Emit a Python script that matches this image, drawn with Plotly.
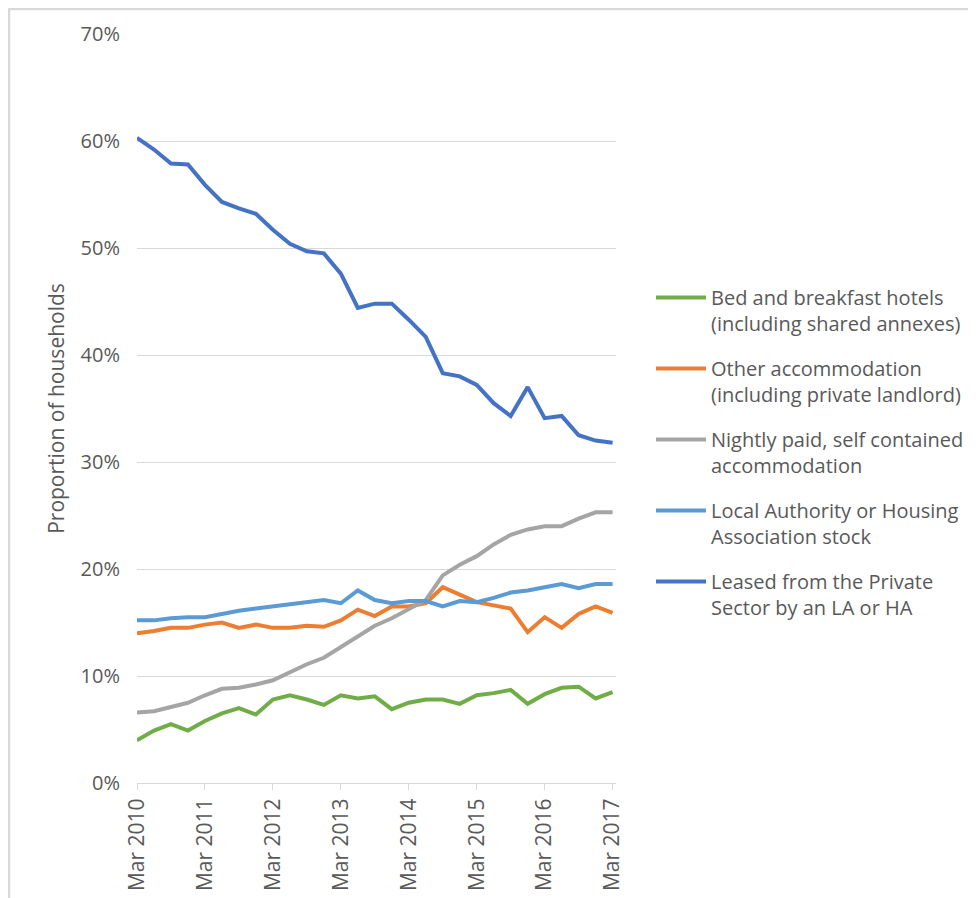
import plotly.graph_objects as go

years = list(range(2010, 2018))
months = ["Mar", "Jun", "Sep", "Dec"]
quarters = []
for y in years:
    for m in months:
        if y == 2017 and m != "Mar":
            continue
        quarters.append(f"{m} {y}")

tick_labels = [f"Mar {y}" for y in years]

bed_breakfast = [4.0, 4.9, 5.5, 4.9, 5.8, 6.5, 7.0, 6.4, 7.8, 8.2, 7.8, 7.3, 8.2, 7.9, 8.1,
                 6.9, 7.5, 7.8, 7.8, 7.4, 8.2, 8.4, 8.7, 7.4, 8.3, 8.9, 9.0, 7.9, 8.5]
other_accommodation = [14.0, 14.2, 14.5, 14.5, 14.8, 15.0, 14.5, 14.8, 14.5, 14.5, 14.7, 14.6, 15.2, 16.2, 15.6,
                       16.5, 16.5, 16.8, 18.3, 17.6, 16.9, 16.6, 16.3, 14.1, 15.5, 14.5, 15.8, 16.5, 15.9]
nightly_paid = [6.6, 6.7, 7.1, 7.5, 8.2, 8.8, 8.9, 9.2, 9.6, 10.4, 11.1, 11.7, 12.7, 13.7, 14.7,
                15.4, 16.2, 17.1, 19.4, 20.4, 21.2, 22.3, 23.2, 23.7, 24.0, 24.0, 24.7, 25.3, 25.3]
la_ha_stock = [15.2, 15.2, 15.4, 15.5, 15.5, 15.8, 16.1, 16.3, 16.5, 16.7, 16.9, 17.1, 16.8, 18.0, 17.1,
               16.8, 17.0, 17.0, 16.5, 17.0, 16.9, 17.3, 17.8, 18.0, 18.3, 18.6, 18.2, 18.6, 18.6]
leased_private = [60.3, 59.2, 57.9, 57.8, 55.9, 54.3, 53.7, 53.2, 51.7, 50.4, 49.7, 49.5, 47.6, 44.4, 44.8,
                  44.8, 43.3, 41.7, 38.3, 38.0, 37.2, 35.5, 34.3, 37.0, 34.1, 34.3, 32.5, 32.0, 31.8]

series = [
    ("Bed and breakfast hotels<br>(including shared annexes)", bed_breakfast, "#70AD47"),
    ("Other accommodation<br>(including private landlord)", other_accommodation, "#ED7D31"),
    ("Nightly paid, self contained<br>accommodation", nightly_paid, "#A5A5A5"),
    ("Local Authority or Housing<br>Association stock", la_ha_stock, "#5B9BD5"),
    ("Leased from the Private<br>Sector by an LA or HA", leased_private, "#4472C4"),
]

FONT = "Open Sans"
TXT = "#595959"

fig = go.Figure()
for i, (name, vals, color) in enumerate(series):
    fig.add_trace(go.Scatter(
        x=quarters, y=[v / 100 for v in vals], name=name, mode="lines",
        line=dict(color=color, width=4), legendgroup=f"g{i}",
    ))

W, H = 976, 898
L, R, T, B = 129, 368, 26, 123
pw, ph = W - L - R, H - T - B

def px_x(p):
    return (p - L) / pw

def px_y(p):
    return (H - B - p) / ph

fig.update_layout(
    width=W, height=H,
    margin=dict(l=L, r=R, t=T, b=B),
    paper_bgcolor="white", plot_bgcolor="white",
    font=dict(family=FONT, color=TXT, size=18),
    legend=dict(
        x=px_x(643), y=px_y(270), xanchor="left", yanchor="top",
        font=dict(family=FONT, size=20, color=TXT),
        tracegroupgap=16, valign="top", itemwidth=50,
        bgcolor="rgba(0,0,0,0)",
    ),
    showlegend=True,
    shapes=[dict(type="rect", xref="paper", yref="paper",
                 x0=px_x(1), x1=px_x(990), y0=px_y(910), y1=px_y(1),
                 line=dict(color="#d9d9d9", width=2.5), layer="below")],
)

fig.update_xaxes(
    type="category", range=[0, 28.2],
    tickmode="array", tickvals=tick_labels, ticktext=tick_labels,
    tickangle=-90, tickfont=dict(family=FONT, size=21, color=TXT),
    showgrid=False, showline=True, linecolor="#d9d9d9", linewidth=1,
    ticks="outside", ticklen=6, tickcolor="#d9d9d9",
    zeroline=False, fixedrange=True,
)
fig.update_yaxes(
    range=[0, 0.7], tickvals=[0, 0.1, 0.2, 0.3, 0.4, 0.5, 0.6, 0.7],
    tickformat=".0%", tickfont=dict(family=FONT, size=20, color=TXT),
    showgrid=True, gridcolor="#d9d9d9", gridwidth=1,
    zeroline=False, showline=False, ticks="",
    ticklabelstandoff=16,
    title=dict(text="Proportion of households", font=dict(family=FONT, size=21, color=TXT), standoff=10),
)

fig.write_html("out.html")
